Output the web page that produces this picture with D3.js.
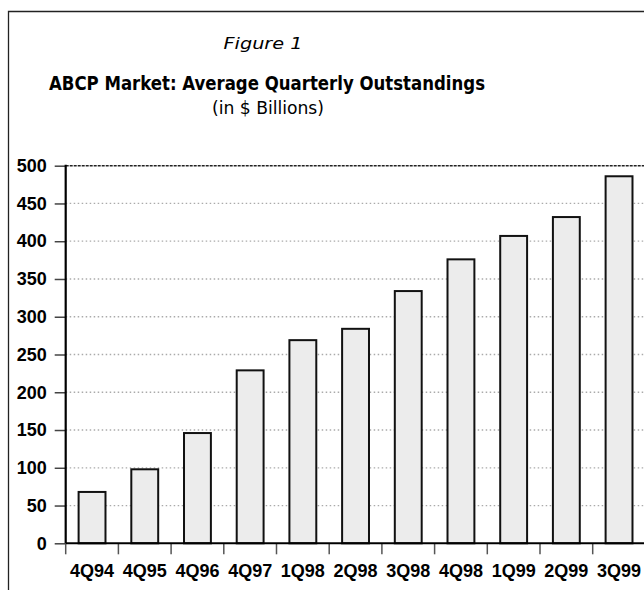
<!DOCTYPE html>
<html>
<head>
<meta charset="utf-8">
<script src="https://d3js.org/d3.v7.min.js"></script>
<style>
  body { margin: 0; background: #fff; }
  text { font-family: "Liberation Sans", Arial, sans-serif; fill: #000; }
  .cond { font-family: "DejaVu Sans Condensed", "Liberation Sans", sans-serif; }
</style>
</head>
<body>
<div id="chart"></div>
<script>
// quarters and average outstandings ($ billions)
var quarters = ["4Q94", "4Q95", "4Q96", "4Q97", "1Q98", "2Q98", "3Q98", "4Q98", "1Q99", "2Q99", "3Q99"];
var outstandings = [68, 98, 146, 229, 269, 284, 334, 376, 407, 432, 486];
var yTicks = [0, 50, 100, 150, 200, 250, 300, 350, 400, 450, 500];

var W = 644, H = 590;
var plotLeft = 65.7, plotRight = 645.4, plotTop = 165.7, plotBottom = 543.3;

var svg = d3.select("#chart")
  .append("svg")
    .attr("width", W)
    .attr("height", H);

// outer frame (cut off at right and bottom)
svg.append("path")
  .attr("d", "M8.5," + (H + 5) + "V11.5H" + (W + 5))
  .attr("fill", "none")
  .attr("stroke", "#222")
  .attr("stroke-width", 1.3);

// titles
function title(txt, y, x, size, len, weight, style) {
  svg.append("text")
    .attr("class", "cond")
    .attr("x", x)
    .attr("y", y)
    .attr("text-anchor", "middle")
    .attr("textLength", len)
    .attr("lengthAdjust", "spacingAndGlyphs")
    .style("font-size", size + "px")
    .style("font-weight", weight)
    .style("font-style", style)
    .text(txt);
}
title("Figure 1", 49, 263, 16.5, 79, "normal", "italic");
title("ABCP Market: Average Quarterly Outstandings", 89.5, 267, 19.5, 436, "bold", "normal");
title("(in $ Billions)", 113.5, 268, 18, 112, "normal", "normal");

// scales
var x = d3.scaleBand()
  .domain(quarters)
  .range([plotLeft, plotRight])
  .paddingInner(0.49)
  .paddingOuter(0.245);

var y = d3.scaleLinear()
  .domain([0, 500])
  .range([plotBottom, plotTop]);

var step = x.step();

// dotted gridlines
svg.append("g")
  .selectAll("line")
  .data(yTicks.filter(function(d) { return d > 0 && d < 500; }))
  .enter().append("line")
    .attr("x1", plotLeft)
    .attr("x2", W)
    .attr("y1", function(d) { return y(d); })
    .attr("y2", function(d) { return y(d); })
    .attr("stroke", "#aaa")
    .attr("stroke-width", 1.3)
    .attr("stroke-dasharray", "1.5,2.5");

// top dashed line at 500
svg.append("line")
  .attr("x1", plotLeft)
  .attr("x2", W)
  .attr("y1", y(500))
  .attr("y2", y(500))
  .attr("stroke", "#222")
  .attr("stroke-width", 1.4)
  .attr("stroke-dasharray", "3,1");

// bars
svg.append("g")
  .selectAll("rect")
  .data(quarters)
  .enter().append("rect")
    .attr("x", function(d) { return x(d); })
    .attr("width", x.bandwidth())
    .attr("y", function(d, i) { return y(outstandings[i]); })
    .attr("height", function(d, i) { return plotBottom - y(outstandings[i]); })
    .attr("fill", "#ececec")
    .attr("stroke", "#111")
    .attr("stroke-width", 2);

// y axis
var yAxis = svg.append("g")
  .attr("transform", "translate(" + plotLeft + ",0)")
  .call(d3.axisLeft(y).tickValues(yTicks).tickSize(11).tickPadding(8));
yAxis.select(".domain").remove();
yAxis.selectAll(".tick line").attr("stroke", "#444").attr("stroke-width", 1.5);
yAxis.selectAll("text")
  .attr("fill", "#000")
  .style("font-family", "'Liberation Sans', Arial, sans-serif")
  .style("font-size", "18px")
  .style("font-weight", "bold");

svg.append("line")
  .attr("x1", plotLeft)
  .attr("x2", plotLeft)
  .attr("y1", plotTop - 1)
  .attr("y2", plotBottom)
  .attr("stroke", "#000")
  .attr("stroke-width", 2.2);

// x axis: ticks sit between the bars
var xTickPos = quarters.map(function(d) { return x(d) + x.bandwidth() / 2 - step / 2; });
svg.append("g")
  .selectAll("line")
  .data(xTickPos)
  .enter().append("line")
    .attr("x1", function(d) { return d; })
    .attr("x2", function(d) { return d; })
    .attr("y1", plotBottom)
    .attr("y2", plotBottom + 11)
    .attr("stroke", "#555")
    .attr("stroke-width", 1.5);

svg.append("line")
  .attr("x1", plotLeft)
  .attr("x2", W)
  .attr("y1", plotBottom)
  .attr("y2", plotBottom)
  .attr("stroke", "#000")
  .attr("stroke-width", 2);

svg.append("g")
  .selectAll("text")
  .data(quarters)
  .enter().append("text")
    .attr("x", function(d) { return x(d) + x.bandwidth() / 2; })
    .attr("y", 576.5)
    .attr("text-anchor", "middle")
    .style("font-size", "18px")
    .style("font-weight", "bold")
    .text(function(d) { return d; });
</script>
</body>
</html>
